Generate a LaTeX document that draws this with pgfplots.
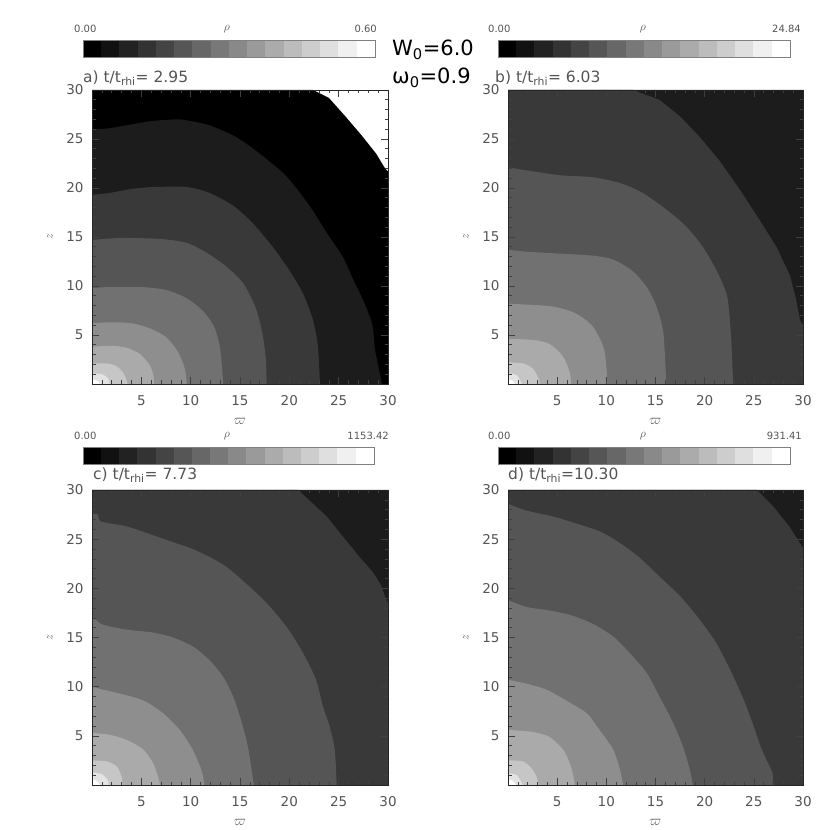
\documentclass[border=0pt]{standalone}
\usepackage{pgfplots}
\pgfplotsset{compat=1.18}
\usepackage{pgfplotstable}
\usepackage{fontspec}
\setmainfont{DejaVu Sans}
\definecolor{g0}{gray}{0}
\definecolor{g1}{gray}{0.111}
\definecolor{g2}{gray}{0.222}
\definecolor{g3}{gray}{0.333}
\definecolor{g4}{gray}{0.444}
\definecolor{g5}{gray}{0.556}
\definecolor{g6}{gray}{0.667}
\definecolor{g7}{gray}{0.778}
\definecolor{g8}{gray}{0.889}
\definecolor{g9}{gray}{1}
\definecolor{txt}{gray}{0.33}
\newcommand{\tickfont}{\fontsize{13.5}{15}\selectfont}
\newcommand{\titlefont}{\fontsize{15.5}{18}\selectfont}
\newcommand{\cbfont}{\fontsize{10}{12}\selectfont}
\newcommand{\bigfont}{\fontsize{21}{24}\selectfont}

\pgfplotstableread{
x y c
0 0 0
1 0 0
1 1 0
0 1 0
1 0 1
2 0 1
2 1 1
1 1 1
2 0 2
3 0 2
3 1 2
2 1 2
3 0 3
4 0 3
4 1 3
3 1 3
4 0 4
5 0 4
5 1 4
4 1 4
5 0 5
6 0 5
6 1 5
5 1 5
6 0 6
7 0 6
7 1 6
6 1 6
7 0 7
8 0 7
8 1 7
7 1 7
8 0 8
9 0 8
9 1 8
8 1 8
9 0 9
10 0 9
10 1 9
9 1 9
10 0 10
11 0 10
11 1 10
10 1 10
11 0 11
12 0 11
12 1 11
11 1 11
12 0 12
13 0 12
13 1 12
12 1 12
13 0 13
14 0 13
14 1 13
13 1 13
14 0 14
15 0 14
15 1 14
14 1 14
15 0 15
16 0 15
16 1 15
15 1 15
}\cbtab

\pgfplotsset{
  panel/.style={
    scale only axis, width=296pt, height=294pt, anchor=south west,
    xmin=0, xmax=30, ymin=0, ymax=30,
    xtick={5,10,15,20,25,30}, ytick={5,10,15,20,25,30},
    minor xtick={1,...,29}, minor ytick={1,...,29},
    tick align=inside, tick pos=both,
    major tick length=7pt, minor tick length=3.5pt,
    tick style={black!75, line width=0.6pt},
    axis line style={black!85, line width=0.7pt},
    axis on top,
    /pgf/number format/assume math mode=true,
    ticklabel style={font=\tickfont, text=txt},
    xticklabel shift=8pt, yticklabel shift=5pt,
    xlabel={$\varpi$}, ylabel={$z$},
    xlabel style={at={(axis description cs:0.5,-0.128)}, anchor=center, font=\fontsize{15}{15}\selectfont, text=txt},
    ylabel style={at={(axis description cs:-0.142,0.5)}, anchor=center, font=\fontsize{13}{13}\selectfont, text=txt},
  },
  cbar/.style={
    scale only axis, width=292pt, height=17pt, anchor=north west,
    xmin=0, xmax=16, ymin=0, ymax=1, xtick=\empty, ytick=\empty,
    axis line style={black!50, line width=0.6pt}, axis on top,
    colormap={bw}{gray(0cm)=(0); gray(15cm)=(1)},
    point meta min=0, point meta max=15,
  },
  reg/.style={draw=none, fill=#1, smooth, tension=0.45},
}

\begin{document}
\begin{tikzpicture}
\useasboundingbox (0pt,0pt) rectangle (830pt,830pt);

% ---------- colorbars ----------
\begin{axis}[cbar, at={(83pt,790pt)}]
\addplot[patch, patch type=rectangle, shader=flat, point meta=explicit] table[x=x, y=y, meta=c] {\cbtab};
\end{axis}
\begin{axis}[cbar, at={(498pt,790pt)}]
\addplot[patch, patch type=rectangle, shader=flat, point meta=explicit] table[x=x, y=y, meta=c] {\cbtab};
\end{axis}
\begin{axis}[cbar, width=291pt, at={(83pt,383pt)}]
\addplot[patch, patch type=rectangle, shader=flat, point meta=explicit] table[x=x, y=y, meta=c] {\cbtab};
\end{axis}
\begin{axis}[cbar, at={(498pt,383pt)}]
\addplot[patch, patch type=rectangle, shader=flat, point meta=explicit] table[x=x, y=y, meta=c] {\cbtab};
\end{axis}

% colorbar labels
\node[anchor=west, font=\cbfont, text=txt, inner sep=0pt] at (74pt,801pt) {0.00};
\node[font=\fontsize{12}{12}\selectfont, text=txt, inner sep=0pt] at (227pt,801pt) {$\rho$};
\node[anchor=east, font=\cbfont, text=txt, inner sep=0pt] at (377pt,801pt) {0.60};
\node[anchor=west, font=\cbfont, text=txt, inner sep=0pt] at (488pt,801pt) {0.00};
\node[font=\fontsize{12}{12}\selectfont, text=txt, inner sep=0pt] at (643pt,801pt) {$\rho$};
\node[anchor=east, font=\cbfont, text=txt, inner sep=0pt] at (801pt,801pt) {24.84};
\node[anchor=west, font=\cbfont, text=txt, inner sep=0pt] at (74pt,394pt) {0.00};
\node[font=\fontsize{12}{12}\selectfont, text=txt, inner sep=0pt] at (227pt,394pt) {$\rho$};
\node[anchor=east, font=\cbfont, text=txt, inner sep=0pt] at (389pt,394pt) {1153.42};
\node[anchor=west, font=\cbfont, text=txt, inner sep=0pt] at (488pt,394pt) {0.00};
\node[font=\fontsize{12}{12}\selectfont, text=txt, inner sep=0pt] at (643pt,394pt) {$\rho$};
\node[anchor=east, font=\cbfont, text=txt, inner sep=0pt] at (802pt,394pt) {931.41};

% panel titles
\node[anchor=west, font=\titlefont, text=txt, inner sep=0pt] at (83pt,752pt) {a) t/t\textsubscript{rhi}= 2.95};
\node[anchor=west, font=\titlefont, text=txt, inner sep=0pt] at (495pt,752pt) {b) t/t\textsubscript{rhi}= 6.03};
\node[anchor=west, font=\titlefont, text=txt, inner sep=0pt] at (93pt,355pt) {c) t/t\textsubscript{rhi}= 7.73};
\node[anchor=west, font=\titlefont, text=txt, inner sep=0pt] at (508pt,355pt) {d) t/t\textsubscript{rhi}=10.30};

% parameters
\node[anchor=west, font=\bigfont, inner sep=0pt] at (392pt,780pt) {W\textsubscript{0}=6.0};
\node[anchor=west, font=\bigfont, inner sep=0pt] at (392pt,752pt) {ω\textsubscript{0}=0.9};

% ---------- panel a ----------
\begin{axis}[panel, at={(92pt,446pt)}]
\addplot[reg=g0, sharp plot] coordinates {(0,30) (22.4,30) (24,29.2) (25.6,27.4) (27.3,25.4) (28.8,23.5) (29.7,22.0) (30,21.7) (30,0)} \closedcycle;
\addplot[reg=g1] coordinates {(0,26.0) (1.8,26.1) (5.8,26.8) (8.5,27.0) (9.6,26.9) (11.9,26.4) (14.6,25.2) (17.0,23.5) (19.7,21.2) (22.1,18.1) (23.8,15.4) (25.4,13.0) (26.5,10.6) (27.5,8.5) (28.4,6.1) (28.7,3.4) (29.4,0)} \closedcycle;
\addplot[reg=g2] coordinates {(0,19.3) (1.8,19.5) (4,19.9) (6.2,20.1) (9.6,20.1) (11.9,19.5) (14.3,18.2) (16.3,16.4) (18.3,14.0) (20.0,11.6) (21.4,9.2) (22.4,6.5) (22.9,3.8) (23.1,0)} \closedcycle;
\addplot[reg=g3] coordinates {(0,14.7) (3,14.9) (6.9,14.8) (9.6,14.4) (11.6,13.4) (13.6,12.0) (15.3,10.3) (16.5,8.0) (17.2,5.5) (17.6,2.8) (17.7,0)} \closedcycle;
\addplot[reg=g4] coordinates {(0,9.8) (2,9.9) (5,9.9) (7.5,9.6) (9.5,8.8) (11.2,7.5) (12.4,5.8) (13.0,3.5) (13.3,0)} \closedcycle;
\addplot[reg=g5] coordinates {(0,6.2) (2,6.3) (4,6.2) (5.8,5.7) (7.5,4.8) (8.7,3.3) (9.4,1.6) (9.6,0)} \closedcycle;
\addplot[reg=g6] coordinates {(0,3.8) (2,3.9) (3.5,3.7) (4.8,3.1) (5.8,2.0) (6.2,1.0) (6.3,0)} \closedcycle;
\addplot[reg=g7] coordinates {(0,2.1) (1.5,2.1) (2.5,1.8) (3.2,1.1) (3.5,0.4) (3.6,0)} \closedcycle;
\addplot[reg=g8] coordinates {(0,1.1) (1.0,1.0) (1.6,0.6) (1.8,0)} \closedcycle;
\addplot[reg=g9] coordinates {(0,0.5) (0.6,0.3) (0.8,0)} \closedcycle;
\end{axis}

% ---------- panel b ----------
\begin{axis}[panel, width=295pt, at={(508pt,446pt)}]
\addplot[reg=g1, sharp plot] coordinates {(0,30) (30,30) (30,0)} \closedcycle;
\addplot[reg=g2, sharp plot] coordinates {(0,30) (12.7,30) (15.4,29.0) (17.5,27.3) (19.5,25.2) (21.5,22.8) (23.6,19.8) (25.6,16.7) (27.3,14.0) (28.7,11.0) (29.3,8.6) (29.7,6.5) (30,6.0) (30,0)} \closedcycle;
\addplot[reg=g3] coordinates {(0,22.1) (1.9,21.8) (5.3,21.3) (8.6,21.1) (11.4,20.5) (13.7,19.5) (16.1,17.8) (18.1,16.1) (19.8,14.0) (21.2,11.6) (22.2,9.3) (22.5,7.3) (22.7,4.5) (22.9,0)} \closedcycle;
\addplot[reg=g4] coordinates {(0,13.7) (1.9,13.5) (5.3,13.3) (8.6,13.1) (10.7,12.7) (12.7,11.5) (14.1,9.9) (15.1,7.9) (15.8,5.2) (16.1,0)} \closedcycle;
\addplot[reg=g5] coordinates {(0,8.2) (1.9,8.1) (4.6,7.9) (6.9,7.2) (8.6,5.9) (9.7,3.8) (10.0,1.8) (10.1,0)} \closedcycle;
\addplot[reg=g6] coordinates {(0,4.6) (2.5,4.5) (4.2,4.1) (5.6,2.8) (6.3,1.1) (6.4,0)} \closedcycle;
\addplot[reg=g7] coordinates {(0,2.2) (1.5,2.1) (2.5,1.6) (3.1,0.6) (3.2,0)} \closedcycle;
\addplot[reg=g8] coordinates {(0,1.1) (0.9,0.9) (1.4,0)} \closedcycle;
\addplot[reg=g9] coordinates {(0,0.5) (0.5,0.3) (0.7,0)} \closedcycle;
\end{axis}

% ---------- panel c ----------
\begin{axis}[panel, height=295pt, at={(92pt,45pt)}]
\addplot[reg=g1, sharp plot] coordinates {(0,30) (30,30) (30,0)} \closedcycle;
\addplot[reg=g2, sharp plot] coordinates {(0,30) (20.9,30) (22.4,28.6) (23.8,27.3) (25.4,25.3) (27.1,23.2) (28.5,21.6) (29.3,20.3) (29.8,18.9) (30,18.5) (30,0)} \closedcycle;
\addplot[reg=g3] coordinates {(0,27.6) (0.6,27.5) (0.9,26.8) (3.5,26.3) (6.2,25.4) (8.2,24.7) (10.2,24.0) (11.9,23.2) (13.6,22.2) (15.6,20.5) (17.7,18.5) (19.7,16.1) (21.4,13.4) (22.7,10.7) (23.4,8.0) (24.1,5.9) (24.6,3.6) (24.8,0)} \closedcycle;
\addplot[reg=g4] coordinates {(0,16.9) (0.4,16.8) (1.1,16.3) (3.5,15.8) (6.2,15.5) (8.2,15.0) (10.2,14.1) (11.9,12.7) (13.3,11.0) (14.3,9.0) (15.1,6.6) (15.8,3.9) (16.4,0)} \closedcycle;
\addplot[reg=g5] coordinates {(0,10.0) (1.1,9.7) (2.8,9.3) (5.2,8.6) (7.2,7.3) (8.9,5.6) (10.2,3.6) (11.1,1.5) (11.4,0)} \closedcycle;
\addplot[reg=g6] coordinates {(0,5.3) (1.8,5.1) (3.5,4.6) (5.2,3.6) (6.2,2.2) (6.7,0.8) (6.9,0)} \closedcycle;
\addplot[reg=g7] coordinates {(0,2.5) (1.5,2.4) (2.5,1.9) (3.0,0.85) (3.1,0)} \closedcycle;
\addplot[reg=g8] coordinates {(0,1.3) (1,1.1) (1.6,0.5) (1.7,0)} \closedcycle;
\addplot[reg=g9] coordinates {(0,0.6) (0.5,0.4) (0.8,0)} \closedcycle;
\end{axis}

% ---------- panel d ----------
\begin{axis}[panel, width=295pt, height=295pt, at={(508pt,45pt)}]
\addplot[reg=g1, sharp plot] coordinates {(0,30) (30,30) (30,0)} \closedcycle;
\addplot[reg=g2, sharp plot] coordinates {(0,30) (25.3,30) (27.0,28.3) (28.6,26.3) (30,24.1) (30,0)} \closedcycle;
\addplot[reg=g3] coordinates {(0,28.6) (1.9,27.9) (4.6,27.3) (6.9,26.6) (9.3,25.8) (11.4,24.6) (13.4,23.1) (15.4,21.2) (17.5,19.2) (19.5,16.8) (21.2,14.4) (22.6,11.7) (24.0,8.6) (25.0,5.9) (25.7,3.9) (26.3,2.5) (26.9,1.2) (26.9,0)} \closedcycle;
\addplot[reg=g4] coordinates {(0,18.8) (1.9,18.1) (3.9,17.8) (6.3,17.3) (8.6,16.4) (10.7,15.1) (12.4,13.4) (14.1,11.4) (15.4,9.0) (16.8,6.3) (17.8,3.9) (18.5,1.5) (18.8,0)} \closedcycle;
\addplot[reg=g5] coordinates {(0,10.7) (1.9,10.3) (3.9,9.7) (5.9,8.6) (8.0,7.3) (9.3,5.6) (10.7,3.6) (11.4,1.5) (11.7,0)} \closedcycle;
\addplot[reg=g6] coordinates {(0,5.6) (2.5,5.4) (4.2,4.9) (5.6,3.6) (6.4,1.9) (6.8,0)} \closedcycle;
\addplot[reg=g7] coordinates {(0,2.5) (1.5,2.4) (2.4,1.7) (2.9,0.85) (3.1,0)} \closedcycle;
\addplot[reg=g8] coordinates {(0,1.2) (0.9,1.0) (1.5,0)} \closedcycle;
\addplot[reg=g9] coordinates {(0,0.6) (0.5,0.4) (0.8,0)} \closedcycle;
\end{axis}
\end{tikzpicture}
\end{document}
